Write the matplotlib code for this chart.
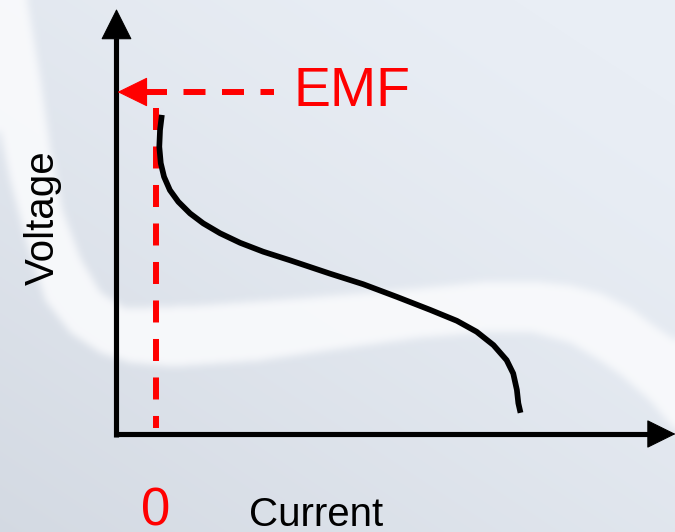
import numpy as np
import matplotlib
matplotlib.use("Agg")
import matplotlib.pyplot as plt
from matplotlib.path import Path

# ---- data: voltage vs. current (arbitrary units) ----
current = [0.16, 0.11, 0.09, 0.13, 0.22, 0.38, 0.61, 0.93, 1.29, 1.75,
           2.30, 2.93, 3.66, 4.75, 5.66, 6.58, 7.49, 8.22, 8.76, 9.22,
           9.58, 9.76, 9.86, 9.90, 9.96]
voltage = [9.33, 8.89, 8.40, 7.92, 7.52, 7.13, 6.79, 6.45, 6.16, 5.87,
           5.59, 5.33, 5.08, 4.69, 4.38, 4.01, 3.63, 3.31, 2.99, 2.60,
           2.16, 1.77, 1.29, 0.90, 0.62]
emf = 10.0

x_label = "Current"
y_label = "Voltage"
emf_label = "EMF"
zero_label = "0"

# ---- layout (pixels) ----
W, H, DPI = 675, 532, 100
PX_PER_I = 36.6      # pixels per unit of current
PX_PER_V = 34.2      # pixels per unit of voltage
X0_PX = 156          # column of zero current
Y0_PX = 434          # row of zero voltage (the horizontal axis)


def i_of(px):
    return (px - X0_PX) / PX_PER_I


def v_of(py):
    return (Y0_PX - py) / PX_PER_V


def px_v(d):
    return d / PX_PER_V


fig = plt.figure(figsize=(W / DPI, H / DPI), dpi=DPI)
ax = fig.add_axes([0, 0, 1, 1])
ax.set_xlim(i_of(0), i_of(W))
ax.set_ylim(v_of(H), v_of(0))
ax.axis("off")

# ---- background: soft blue-grey gradient with a white swoosh ----
yy, xx = np.mgrid[0:H, 0:W].astype(float)
light = np.array([233, 238, 245]) / 255.0
dark = np.array([211, 217, 226]) / 255.0
t = np.clip(0.6 * (yy / H) + 0.5 * (1 - xx / W) - 0.12, 0, 1) ** 1.3
bg = light[None, None, :] * (1 - t[..., None]) + dark[None, None, :] * t[..., None]

inner = [(26, -5), (40, 80), (50, 150), (62, 210), (80, 258), (100, 292),
         (125, 308), (200, 305), (300, 298), (420, 288), (480, 282),
         (530, 281), (570, 285), (600, 293), (630, 308), (650, 323),
         (675, 340), (710, 365)]
outer = [(710, 470), (675, 430), (650, 400), (620, 374), (600, 360),
         (570, 342), (530, 331), (480, 332), (420, 337), (340, 348),
         (258, 360), (172, 366), (130, 362), (100, 352), (70, 332),
         (45, 300), (26, 240), (10, 180), (0, 130), (-15, 60), (-15, -5)]
band = Path(inner + outer + [inner[0]])
mask = band.contains_points(np.c_[xx.ravel(), yy.ravel()]).reshape(H, W).astype(float)


def box_blur(a, r):
    k = np.ones(2 * r + 1) / (2 * r + 1)
    a = np.apply_along_axis(lambda m: np.convolve(np.pad(m, r, mode="edge"), k, mode="valid"), 0, a)
    a = np.apply_along_axis(lambda m: np.convolve(np.pad(m, r, mode="edge"), k, mode="valid"), 1, a)
    return a


mask = box_blur(box_blur(mask, 4), 4)
white = np.array([249, 250, 252]) / 255.0
alpha = 0.92 * mask[..., None]
bg = bg * (1 - alpha) + white[None, None, :] * alpha
ax.imshow(bg, extent=(i_of(0), i_of(W), v_of(H), v_of(0)), origin="upper",
          aspect="auto", interpolation="bilinear", zorder=0)

# ---- axes drawn as arrows ----
AX_LW = 3.7
i_axis = i_of(116.5)
ax.plot([i_axis, i_axis], [v_of(436.5), v_of(38)], color="black", lw=AX_LW,
        solid_capstyle="butt", zorder=4)
ax.plot([i_of(114), i_of(651)], [0, 0], color="black", lw=AX_LW,
        solid_capstyle="butt", zorder=4)


def head(tip, base, color, length_pt, half_pt):
    ax.annotate("", xy=tip, xytext=base, zorder=5, annotation_clip=False,
                arrowprops=dict(arrowstyle=f"-|>,head_length={length_pt},head_width={half_pt}",
                                mutation_scale=1, color=color, lw=0.8,
                                shrinkA=0, shrinkB=0))


head((i_axis, v_of(9)), (i_axis, v_of(38)), "black", 20.5, 10.3)
head((i_of(675.5), 0), (i_of(649), 0), "black", 19.0, 9.4)

# ---- the curve ----
ax.plot(current, voltage, color="black", lw=4.1, solid_capstyle="butt",
        solid_joinstyle="round", zorder=3)

# ---- EMF markers (red dashed) ----
RED = "#ff0000"
R_LW = 4.3
dash = (22 / 1.389 / R_LW, 16.5 / 1.389 / R_LW)
ax.plot([i_of(145), i_of(274)], [emf, emf], color=RED, lw=R_LW,
        dashes=dash, zorder=2)
head((i_of(117.5), emf), (i_of(146), emf), RED, 20.0, 9.8)
ax.plot([0, 0], [emf - px_v(16), px_v(6)], color=RED, lw=R_LW,
        dashes=dash, zorder=2)

# ---- text ----
FONT = ["Liberation Sans", "DejaVu Sans"]
fig.text(293 / W, 1 - 106 / H, emf_label, color=RED, fontsize=40,
         family=FONT, ha="left", va="baseline")
ax.text(0, v_of(525), zero_label, color=RED, fontsize=38, family=FONT,
        ha="center", va="baseline")
fig.text(249 / W, 1 - 526 / H, x_label, color="black", fontsize=29,
         family=FONT, ha="left", va="baseline")
fig.text(54 / W, 1 - 218 / H, y_label, color="black", fontsize=29,
         family=FONT, ha="center", va="baseline", rotation=90,
         rotation_mode="anchor")

fig.savefig("out.png", dpi=DPI)
